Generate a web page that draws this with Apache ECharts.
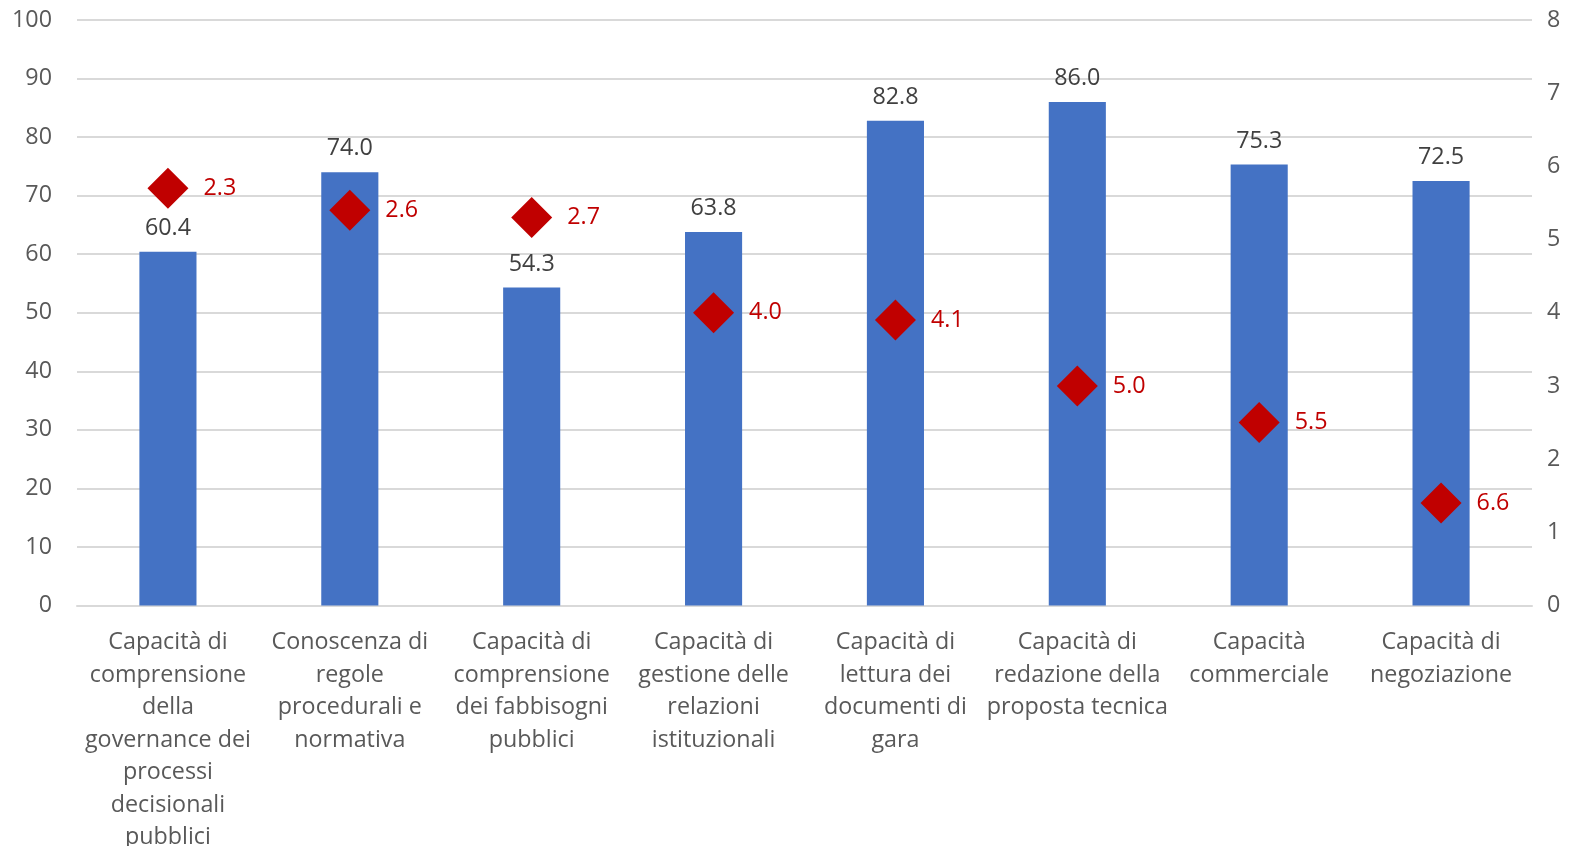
<!DOCTYPE html>
<html>
<head>
<meta charset="utf-8">
<script src="https://cdn.jsdelivr.net/npm/echarts@6/dist/echarts.min.js"></script>
<style>
  html, body { margin: 0; padding: 0; background: #fff; }
  #chart { width: 1577px; height: 846px; }
</style>
</head>
<body>
<div id="chart"></div>
<script>
// Skill categories (line breaks as shown under the axis)
const categories = [
  'Capacità di\ncomprensione\ndella\ngovernance dei\nprocessi\ndecisionali\npubblici',
  'Conoscenza di\nregole\nprocedurali e\nnormativa',
  'Capacità di\ncomprensione\ndei fabbisogni\npubblici',
  'Capacità di\ngestione delle\nrelazioni\nistituzionali',
  'Capacità di\nlettura dei\ndocumenti di\ngara',
  'Capacità di\nredazione della\nproposta tecnica',
  'Capacità\ncommerciale',
  'Capacità di\nnegoziazione'
];

// Percentage values (left axis)
const barValues = [60.4, 74.0, 54.3, 63.8, 82.8, 86.0, 75.3, 72.5];

// Ranking values (right axis, drawn top-down)
const rankValues = [2.3, 2.6, 2.7, 4.0, 4.1, 5.0, 5.5, 6.6];

const FONT = '"Open Sans", sans-serif';
const FS = 23.3;

const chart = echarts.init(document.getElementById('chart'), null, { renderer: 'canvas' });

chart.setOption({
  animation: false,
  backgroundColor: '#ffffff',
  textStyle: { fontFamily: FONT },
  grid: {
    left: 77, right: 45, top: 20, bottom: 240.5,
    containLabel: false,
    outerBoundsMode: 'none'
  },
  xAxis: {
    type: 'category',
    data: categories,
    axisTick: { show: false },
    axisLine: { lineStyle: { color: '#d9d9d9', width: 2 } },
    axisLabel: {
      interval: 0,
      color: '#595959',
      fontSize: FS,
      fontFamily: FONT,
      lineHeight: 32.5,
      margin: 21,
      align: 'center'
    }
  },
  yAxis: [
    {
      type: 'value',
      min: 0,
      max: 100,
      interval: 10,
      axisLine: { show: false },
      axisTick: { show: false },
      axisLabel: { color: '#595959', fontSize: FS, fontFamily: FONT, margin: 25 },
      splitLine: { lineStyle: { color: '#d9d9d9', width: 2 } }
    },
    {
      type: 'value',
      min: 0,
      max: 8,
      interval: 1,
      inverse: true,
      position: 'right',
      axisLine: { show: false },
      axisTick: { show: false },
      splitLine: { show: false },
      axisLabel: {
        color: '#595959',
        fontSize: FS,
        fontFamily: FONT,
        margin: 15,
        formatter: v => String(8 - v)
      }
    }
  ],
  series: [
    {
      type: 'bar',
      data: barValues,
      yAxisIndex: 0,
      barWidth: '31.4%',
      itemStyle: { color: '#4472c4' },
      label: {
        show: true,
        position: 'top',
        distance: 12,
        color: '#404040',
        fontSize: FS,
        fontFamily: FONT,
        formatter: p => p.value.toFixed(1)
      }
    },
    {
      type: 'scatter',
      data: rankValues,
      yAxisIndex: 1,
      symbol: 'diamond',
      symbolSize: 41,
      itemStyle: { color: '#c00000', opacity: 1 },
      z: 5,
      label: {
        show: true,
        position: 'right',
        distance: 15,
        color: '#c00000',
        fontSize: FS,
        fontFamily: FONT,
        formatter: p => p.value.toFixed(1)
      }
    }
  ]
});
</script>
</body>
</html>
